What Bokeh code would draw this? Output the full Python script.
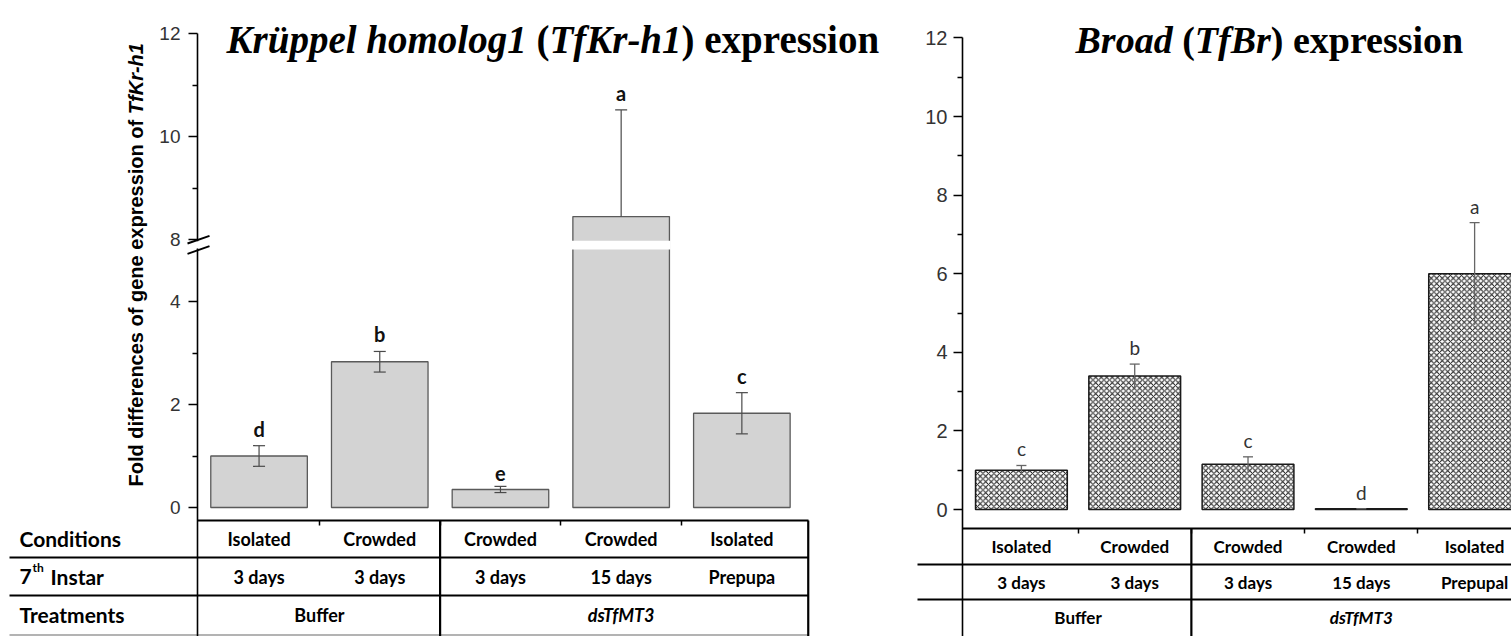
from bokeh.plotting import figure
from bokeh.models import LinearAxis, FixedTicker, Range1d
from bokeh.layouts import row
from bokeh.core.properties import value
from bokeh.embed import file_html
from bokeh.resources import INLINE

# ---------------- data ----------------
positions = [1, 2, 3, 4, 5]
conditions = ["Isolated", "Crowded", "Crowded", "Crowded", "Isolated"]
instar_kr = ["3 days", "3 days", "3 days", "15 days", "Prepupa"]
instar_br = ["3 days", "3 days", "3 days", "15 days", "Prepupal"]
treatments = ["Buffer", "dsTfMT3"]
treatment_members = [[1, 2], [3, 4, 5]]

kr_mean = [1.00, 2.83, 0.35, 8.45, 1.83]
kr_se = [0.20, 0.20, 0.06, 2.07, 0.40]
kr_letters = ["d", "b", "e", "a", "c"]

br_mean = [1.00, 3.40, 1.15, 0.02, 6.00]
br_se = [0.12, 0.30, 0.19, 0.00, 1.30]
br_letters = ["c", "b", "c", "d", "a"]

kr_major = [0, 2, 4, 8, 10, 12]
kr_minor = [1, 3, 9, 11]
br_major = [0, 2, 4, 6, 8, 10, 12]
br_minor = [1, 3, 5, 7, 9, 11]

# ---------------- page geometry ----------------
H = 636
W_KR, W_BR = 900, 611
SANS = "Liberation Sans"
SERIF = "Liberation Serif"
TABLE_FONT = "Lato"
SPACE_EM = 0.25  # width of a space in the serif face


class Panel:
    """Maps page pixels of one panel to its data coordinates."""

    def __init__(self, width, sx, sy, axis_x, axis_px, zero_px):
        self.sx, self.sy, self.axis_x = sx, sy, axis_x
        self.x0 = axis_x - axis_px / sx
        self.x1 = self.x0 + width / sx
        self.ytop = zero_px / sy
        self.ybot = self.ytop - H / sy

    def px(self, px):
        return self.x0 + px / self.sx

    def py(self, py):
        return self.ytop - py / self.sy

    def dx(self, pixels):
        return pixels / self.sx


KR = Panel(W_KR, 120.7, 51.5, 0.49, 197, 507)
BR = Panel(W_BR, 113.3, 39.3, 0.48, 62, 509)

# broken value axis of the Kr-h1 panel
BREAK_LO, BREAK_HI = 5.0, 7.8


def kr_y(v):
    return v if v <= BREAK_LO else v - (BREAK_HI - BREAK_LO)


def kr_part(v):
    return 0 if v <= BREAK_LO else (1 if v >= BREAK_HI else -1)


def make_fig(width, panel):
    return figure(width=width, height=H,
                  x_range=Range1d(panel.x0, panel.x1),
                  y_range=Range1d(panel.ybot, panel.ytop),
                  x_axis_type=None, y_axis_type=None,
                  toolbar_location=None, output_backend="svg",
                  min_border=0, outline_line_color=None,
                  background_fill_color="white", border_fill_color="white")


def style_value_axis(ax, size, standoff):
    ax.axis_line_color = "black"
    ax.axis_line_width = 1.6
    ax.major_tick_line_color = "black"
    ax.major_tick_line_width = 1.5
    ax.major_tick_out = 9
    ax.major_tick_in = 0
    ax.minor_tick_line_color = "black"
    ax.minor_tick_line_width = 1.3
    ax.minor_tick_out = 5
    ax.minor_tick_in = 0
    ax.major_label_text_font = SANS
    ax.major_label_text_font_size = size
    ax.major_label_text_color = "#333333"
    ax.major_label_standoff = standoff


def category_axis(p, panel, y, right_end):
    ax = LinearAxis(fixed_location=y, bounds=(panel.axis_x, right_end),
                    ticker=FixedTicker(ticks=[1.5, 2.5, 3.5, 4.5]))
    ax.axis_line_color = "black"
    ax.axis_line_width = 2
    ax.major_tick_line_color = "black"
    ax.major_tick_line_width = 1.5
    ax.major_tick_out = 5
    ax.major_tick_in = 0
    ax.minor_tick_line_color = None
    ax.major_label_text_color = None
    p.add_layout(ax, "below")


def title_pieces(p, x, y, pieces, size):
    """Runs of mixed upright/italic text; each advance includes any following space."""
    offsets, cur = [], 0.0
    for _, em, _ in pieces:
        offsets.append(cur)
        cur += em * size
    p.text(x=[x] * len(pieces), y=[y] * len(pieces),
           text=[t for t, _, _ in pieces], x_offset=offsets,
           text_font_style=[s for _, _, s in pieces],
           text_font=value(SERIF), text_font_size=f"{size}px",
           text_color="black", text_align="left", text_baseline="alphabetic")


def table_text(p, xs, ys, texts, size, style="bold", align="center"):
    p.text(x=xs, y=ys, text=texts, text_font=value(TABLE_FONT),
           text_font_style=style, text_font_size=size, text_color="black",
           text_align=align, text_baseline="middle")


# ================= Kr-h1 panel (broken axis) =================
p1 = make_fig(W_KR, KR)

title_pieces(p1, KR.px(226), KR.py(39), [
    ("Krüppel homolog1", 7.696 + SPACE_EM, "bold italic"),
    ("(", 0.333, "bold"),
    ("TfKr-h1", 3.389, "bold italic"),
    (")", 0.333 + SPACE_EM, "bold"),
    ("expression", 4.5, "bold"),
], 39)

# rotated value-axis title with an italic gene name at its end
ylab_size = 20
p1.text(x=[KR.px(135)] * 2, y=[KR.py(486)] * 2,
        text=["Fold differences of gene expression of", "TfKr-h1"],
        y_offset=[0, -18.616 * ylab_size], angle=1.5707963,
        text_font=value(SANS), text_font_style=["bold", "bold italic"],
        text_font_size=f"{ylab_size}px", text_color="black",
        text_align="left", text_baseline="middle")

kr_top = [kr_y(m) for m in kr_mean]
p1.vbar(x=positions, bottom=0, top=kr_top, width=0.8,
        fill_color="#d3d3d3", line_color="#5a5a5a", line_width=1.3)

# white band where a bar crosses the axis break
tall = [x for x, m in zip(positions, kr_mean) if m >= BREAK_HI]
p1.quad(left=[x - 0.41 for x in tall], right=[x + 0.41 for x in tall],
        bottom=[kr_y(BREAK_HI) + 0.01] * len(tall),
        top=[kr_y(BREAK_HI) + 0.18] * len(tall),
        fill_color="white", line_color=None)

kr_hi = [kr_y(m + e) for m, e in zip(kr_mean, kr_se)]
kr_lo = [kr_y(m - e) if kr_part(m - e) == kr_part(m) else kr_y(m)
         for m, e in zip(kr_mean, kr_se)]
cap = KR.dx(6)
p1.segment(x0=positions, x1=positions, y0=kr_lo, y1=kr_hi,
           line_color="#4a4a4a", line_width=1.2)
p1.segment(x0=[x - cap for x in positions], x1=[x + cap for x in positions],
           y0=kr_hi, y1=kr_hi, line_color="#4a4a4a", line_width=1.2)
low_caps = [(x, lo) for x, lo, t in zip(positions, kr_lo, kr_top) if lo != t]
p1.segment(x0=[x - cap for x, _ in low_caps], x1=[x + cap for x, _ in low_caps],
           y0=[lo for _, lo in low_caps], y1=[lo for _, lo in low_caps],
           line_color="#4a4a4a", line_width=1.2)

p1.text(x=positions, y=kr_hi, text=kr_letters, y_offset=-5,
        text_font=value(TABLE_FONT), text_font_style="bold",
        text_font_size="20px", text_color="#111111",
        text_align="center", text_baseline="bottom")

kr_axis = LinearAxis(fixed_location=KR.axis_x, bounds=(KR.ybot, kr_y(12)),
                     ticker=FixedTicker(ticks=[kr_y(v) for v in kr_major],
                                        minor_ticks=[kr_y(v) for v in kr_minor]),
                     major_label_overrides={kr_y(v): str(v) for v in kr_major})
style_value_axis(kr_axis, "19px", 8)
p1.add_layout(kr_axis, "left")

# break marks on the value axis
gap_mid = kr_y(BREAK_HI) + 0.1
mark_centres = [gap_mid + 0.1, gap_mid - 0.1]
wipe = p1.quad(left=[KR.axis_x - KR.dx(3)], right=[KR.axis_x + KR.dx(3)],
               bottom=[gap_mid - 0.07], top=[gap_mid + 0.07],
               fill_color="white", line_color=None)
marks = p1.segment(x0=[KR.axis_x - KR.dx(10)] * 2, x1=[KR.axis_x + KR.dx(12)] * 2,
                   y0=[c - 0.075 for c in mark_centres],
                   y1=[c + 0.075 for c in mark_centres],
                   line_color="black", line_width=2)
wipe.level = "overlay"
marks.level = "overlay"

# condition table
kr_base = KR.py(520)
kr_right = 5.55
category_axis(p1, KR, kr_base, kr_right)
p1.segment(x0=[KR.px(9)] * 2, x1=[kr_right] * 2,
           y0=[KR.py(557), KR.py(595)], y1=[KR.py(557), KR.py(595)],
           line_color="black", line_width=2.2)
p1.segment(x0=[KR.px(9)], x1=[kr_right], y0=[KR.py(634.5)], y1=[KR.py(634.5)],
           line_color="#9a9a9a", line_width=1.5)
p1.segment(x0=[2.5, kr_right], x1=[2.5, kr_right], y0=[kr_base] * 2,
           y1=[KR.ybot] * 2, line_color="black", line_width=2.2)

rows_kr = [KR.py(538), KR.py(576), KR.py(614)]
table_text(p1, positions, [rows_kr[0]] * 5, conditions, "18px")
table_text(p1, positions, [rows_kr[1]] * 5, instar_kr, "18px")
centres = [sum(m) / len(m) for m in treatment_members]
table_text(p1, centres[:1], [rows_kr[2]], treatments[:1], "18px")
table_text(p1, centres[1:], [rows_kr[2]], treatments[1:], "18px", style="bold italic")

table_text(p1, [KR.px(19)], [rows_kr[0]], ["Conditions"], "21px", align="left")
table_text(p1, [KR.px(19)], [rows_kr[1]], ["7"], "21px", align="left")
table_text(p1, [KR.px(32)], [KR.py(567)], ["th"], "12px", align="left")
table_text(p1, [KR.px(50)], [rows_kr[1]], ["Instar"], "21px", align="left")
table_text(p1, [KR.px(19)], [rows_kr[2]], ["Treatments"], "21px", align="left")

# ================= Broad panel =================
p2 = make_fig(W_BR, BR)

title_pieces(p2, BR.px(175), BR.py(39), [
    ("Broad", 2.556 + SPACE_EM, "bold italic"),
    ("(", 0.333, "bold"),
    ("TfBr", 2.0, "bold italic"),
    (")", 0.333 + SPACE_EM, "bold"),
    ("expression", 4.5, "bold"),
], 38)

p2.vbar(x=positions, bottom=0, top=br_mean, width=0.81,
        fill_color="white", hatch_pattern="diagonal_cross", hatch_scale=5.5,
        hatch_color="#1a1a1a", hatch_weight=1.0,
        line_color="#1a1a1a", line_width=1.5)

br_hi = [m + e for m, e in zip(br_mean, br_se)]
br_lo = [m - e for m, e in zip(br_mean, br_se)]
bcap = BR.dx(5)
p2.segment(x0=positions, x1=positions, y0=br_lo, y1=br_hi,
           line_color="#666666", line_width=1.3)
p2.segment(x0=[x - bcap for x in positions], x1=[x + bcap for x in positions],
           y0=br_hi, y1=br_hi, line_color="#666666", line_width=1.3)

p2.text(x=positions, y=br_hi, text=br_letters, y_offset=-5,
        text_font=value(TABLE_FONT), text_font_size="19px",
        text_color="#333333", text_align="center", text_baseline="bottom")

br_axis = LinearAxis(fixed_location=BR.axis_x, bounds=(BR.ybot, 12),
                     ticker=FixedTicker(ticks=br_major, minor_ticks=br_minor))
style_value_axis(br_axis, "20px", 6)
p2.add_layout(br_axis, "left")

br_base = BR.py(528)
category_axis(p2, BR, br_base, BR.x1)
p2.segment(x0=[BR.px(17)] * 2, x1=[BR.x1] * 2,
           y0=[BR.py(564), BR.py(599)], y1=[BR.py(564), BR.py(599)],
           line_color="black", line_width=2.2)
p2.segment(x0=[2.5], x1=[2.5], y0=[br_base], y1=[BR.ybot],
           line_color="black", line_width=2.2)

rows_br = [BR.py(546), BR.py(582), BR.py(617)]
table_text(p2, positions, [rows_br[0]] * 5, conditions, "17px")
table_text(p2, positions, [rows_br[1]] * 5, instar_br, "17px")
table_text(p2, centres[:1], [rows_br[2]], treatments[:1], "17px")
table_text(p2, centres[1:], [rows_br[2]], treatments[1:], "17px", style="bold italic")

layout = row(p1, p2, spacing=0)
open("out.html", "w").write(file_html(layout, INLINE))
